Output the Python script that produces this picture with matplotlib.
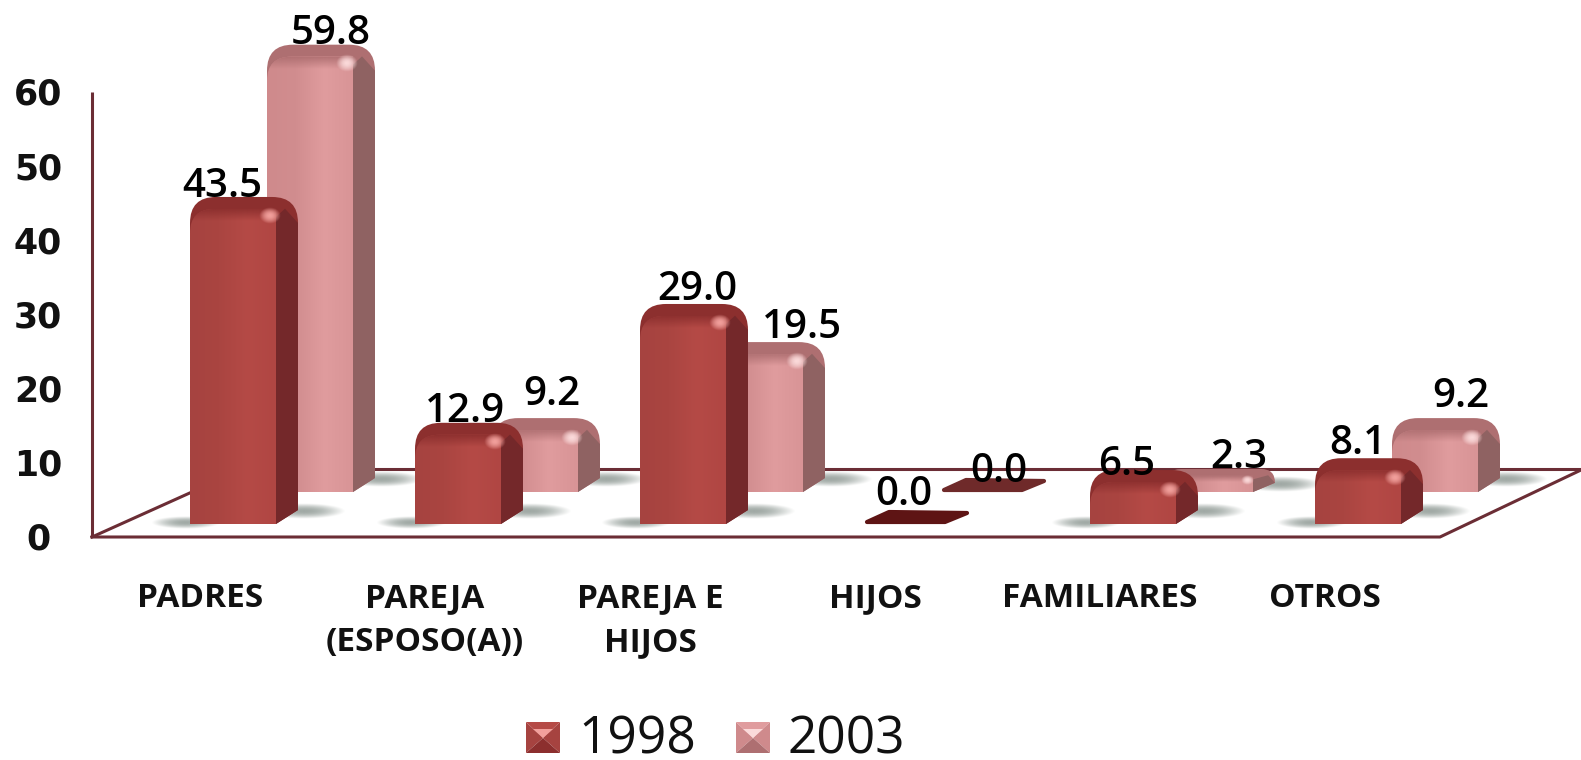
import numpy as np
import matplotlib
matplotlib.use('Agg')
import matplotlib.pyplot as plt
from matplotlib.path import Path
from matplotlib.patches import PathPatch, Polygon
from matplotlib.colors import to_rgb

categories = ['PADRES', 'PAREJA\n(ESPOSO(A))', 'PAREJA E\nHIJOS', 'HIJOS', 'FAMILIARES', 'OTROS']
values_1998 = [43.5, 12.9, 29.0, 0.0, 6.5, 8.1]
values_2003 = [59.8, 9.2, 19.5, 0.0, 2.3, 9.2]
y_ticks = [0, 10, 20, 30, 40, 50, 60]
legend_labels = ['1998', '2003']

# small nudges of the value labels, in pixels
label_dx_1998 = [32, 50, 57, 39, 37, 43]
label_dx_2003 = [64, 60, 85, 57, 72, 69]
label_dy_1998 = [-4, -3, 0, 9, -9, 0]
label_dy_2003 = [-3, 9, 0, 0, -3, 7]

# pixel scale of the picture
PX_CAT = 225.0
PX_VAL = 7.38
X0 = 190.0
Y0 = 518.0

style_1998 = dict(face=['#A64340', '#AA4541', '#B54A46', '#B04643'], side='#74282A', rim='#8C2F2E', hi='#F2A09C', flat='#5E1414')
style_2003 = dict(face=['#CF8A8C', '#D18D8F', '#E09C9E', '#D89496'], side='#8F6262', rim='#AE6F71', hi='#FBDADA', flat='#6F2A2A')
axis_col = '#6B2D35'


def xd(p):
    return (p - X0) / PX_CAT


def yd(p):
    return (Y0 - p) / PX_VAL


fig = plt.figure(figsize=(15.81, 7.6), dpi=100)
ax = fig.add_axes([0, 0, 1, 1])
ax.set_xlim(xd(0), xd(1581))
ax.set_ylim(yd(760), yd(0))
ax.axis('off')


def gradient(cols, extent, clip, z):
    rgb = np.array([to_rgb(c) for c in cols])
    xs = np.linspace(0, len(cols) - 1, 64)
    row = np.stack([np.interp(xs, range(len(cols)), rgb[:, k]) for k in range(3)], axis=1)
    im = ax.imshow(row[np.newaxis, :, :], extent=extent, aspect='auto', zorder=z, interpolation='bilinear')
    im.set_clip_path(clip)


def blob(cx, cy, w, h, col, strength, z):
    xx, yy = np.meshgrid(np.linspace(-1, 1, 80), np.linspace(-1, 1, 40))
    a = np.clip(1 - xx ** 2 - yy ** 2, 0, 1) ** 1.2 * strength
    img = np.zeros((40, 80, 4))
    img[..., :3] = to_rgb(col)
    img[..., 3] = a
    ax.imshow(img, extent=[cx - w / 2, cx + w / 2, cy - h / 2, cy + h / 2], aspect='auto', zorder=z)


def bar3d(i, value, st, back, z):
    # all sizes are pixels turned to axis units
    sx, sy = 1 / PX_CAT, 1 / PX_VAL
    left = i + (77 * sx if back else 0)
    zero = 32 * sy if back else 0
    base = zero - 6 * sy
    W, D = 86 * sx, 22 * sx
    if value == 0:
        pts = [(left + 2 * sx, base + 2 * sy), (left + 80 * sx, base + 2 * sy), (left + 102 * sx, base + 11 * sy),
               (left + 24 * sx, base + 12 * sy)]
        ax.add_patch(Polygon(pts, closed=True, fc=st['flat'], ec=st['flat'], lw=3, joinstyle='round', zorder=z))
        return
    top = zero + value
    h = (top - base) / sy
    Dh = min(14, h * 0.4) * sy
    r = min(26, h * 0.6)
    rx, ry = r * sx, r * sy
    right = left + W + D
    blob(left - 4 * sx, base + 1 * sy, 70 * sx, 13 * sy, '#78857F', 0.7, z - 0.5)
    blob(right + 6 * sx, base + Dh - 1 * sy, 84 * sx, 16 * sy, '#78857F', 0.7, z - 0.5)
    # whole silhouette
    verts = [(left, base), (left, top - ry), (left, top), (left + rx, top), (right - rx, top), (right, top),
             (right, top - ry), (right, base + Dh), (left + W, base), (left, base)]
    codes = [Path.MOVETO, Path.LINETO, Path.CURVE3, Path.CURVE3, Path.LINETO, Path.CURVE3, Path.CURVE3,
             Path.LINETO, Path.LINETO, Path.CLOSEPOLY]
    ax.add_patch(PathPatch(Path(verts, codes), fc=st['rim'], ec='none', zorder=z))
    # side face
    t2 = top - min(12, h * 0.3) * sy
    side_top = max(top - ry, base + Dh)
    side = [(left + W, base), (right, base + Dh), (right, side_top), (right - rx * 0.5, max(top - ry * 0.45, side_top)),
            (left + W, max(t2 - min(8, h * 0.15) * sy, base)), (left + W, base)]
    ax.add_patch(Polygon(side, closed=True, fc=st['side'], ec='none', zorder=z + 0.1))
    # front face
    fr = min(24, h * 0.5)
    fx, fy = fr * sx, fr * sy
    fv = [(left, base), (left, t2 - fy), (left, t2), (left + fx, t2), (left + W, t2), (left + W, base), (left, base)]
    fc = [Path.MOVETO, Path.LINETO, Path.CURVE3, Path.CURVE3, Path.LINETO, Path.LINETO, Path.CLOSEPOLY]
    clip = PathPatch(Path(fv, fc), fc='none', ec='none', transform=ax.transData)
    ax.add_patch(clip)
    gradient(st['face'], [left, left + W, base, t2], clip, z + 0.2)
    # rim colour fades into the face
    fade = np.zeros((30, 1, 4))
    fade[..., :3] = to_rgb(st['rim'])
    fade[:, 0, 3] = np.linspace(0.9, 0, 30)
    fade_h = min(12, h * 0.25) * sy
    im = ax.imshow(fade, extent=[left, left + W, t2 - fade_h, t2], aspect='auto', zorder=z + 0.25, interpolation='bilinear')
    im.set_clip_path(clip)
    # blurred light spot on the corner, smaller on the short bars
    k = min(1.0, h / 40)
    blob(left + W - 6 * sx, t2 - 7 * k * sy, 22 * k * sx, 17 * k * sy, st['hi'], 1.0, z + 0.3)


# floor and wall lines
ax.plot([xd(92), xd(92)], [yd(92), yd(537)], color=axis_col, lw=2.2, zorder=1, solid_capstyle='butt')
ax.plot([xd(92), xd(1440), xd(1581)], [yd(537), yd(537), yd(470)], color=axis_col, lw=2.2, zorder=1)
ax.plot([xd(92), xd(243)], [yd(537), yd(469)], color=axis_col, lw=2.2, zorder=1)
ax.plot([xd(243), xd(1581)], [yd(469), yd(469)], color=axis_col, lw=2.2, zorder=1)

for i in range(len(categories)):
    bar3d(i, values_2003[i], style_2003, True, 3 + i)
for i in range(len(categories)):
    bar3d(i, values_1998[i], style_1998, False, 11 + i)

# value labels
for i in range(len(categories)):
    ax.text(i + (77 + label_dx_2003[i]) / PX_CAT, values_2003[i] + (32 + 14 + label_dy_2003[i]) / PX_VAL, '%.1f' % values_2003[i],
            ha='center', va='center', fontsize=29, family='Open Sans', fontweight='semibold', color='black', zorder=30)
    ax.text(i + label_dx_1998[i] / PX_CAT, values_1998[i] + (14 + label_dy_1998[i]) / PX_VAL, '%.1f' % values_1998[i],
            ha='center', va='center', fontsize=29, family='Open Sans', fontweight='semibold', color='black', zorder=30)

# axis numbers
for t in y_ticks:
    ax.text(xd(38), yd(540 - t * 7.42), str(t), ha='center', va='center', fontsize=25,
            family='DejaVu Sans', fontweight='bold', color='#111111')

# category names
for i, c in enumerate(categories):
    ax.text(i + 10 / PX_CAT, yd(582), c, ha='center', va='top', fontsize=24, family='Open Sans',
            fontweight='bold', color='#111111', linespacing=1.45)

# legend drawn by hand, the squares have a pyramid look
legend_x = [526, 736]
for lab, st, lx in zip(legend_labels, [style_1998, style_2003], legend_x):
    x1, x2 = xd(lx), xd(lx + 34)
    y1, y2 = yd(753), yd(722)
    mx, my = xd(lx + 17), yd(738)
    ax.add_patch(Polygon([(x1, y1), (x1, y2), (mx, my)], closed=True, fc=st['face'][0], ec='none'))
    ax.add_patch(Polygon([(x2, y1), (x2, y2), (mx, my)], closed=True, fc=st['face'][0], ec='none'))
    ax.add_patch(Polygon([(x1, y2), (x2, y2), (mx, my)], closed=True, fc=st['face'][2], ec='none'))
    ax.add_patch(Polygon([(x1, y1), (x2, y1), (mx, my)], closed=True, fc=st['rim'], ec='none'))
    ax.add_patch(Polygon([(xd(lx + 7), yd(729)), (xd(lx + 27), yd(729)), (mx, my)], closed=True, fc=st['hi'], ec='none'))
    ax.text(xd(lx + 52), yd(754), lab, ha='left', va='baseline', fontsize=37, family='Open Sans', color='#111111')

ax.set_xlim(xd(0), xd(1581))
ax.set_ylim(yd(760), yd(0))
fig.savefig('out.png', dpi=100)
